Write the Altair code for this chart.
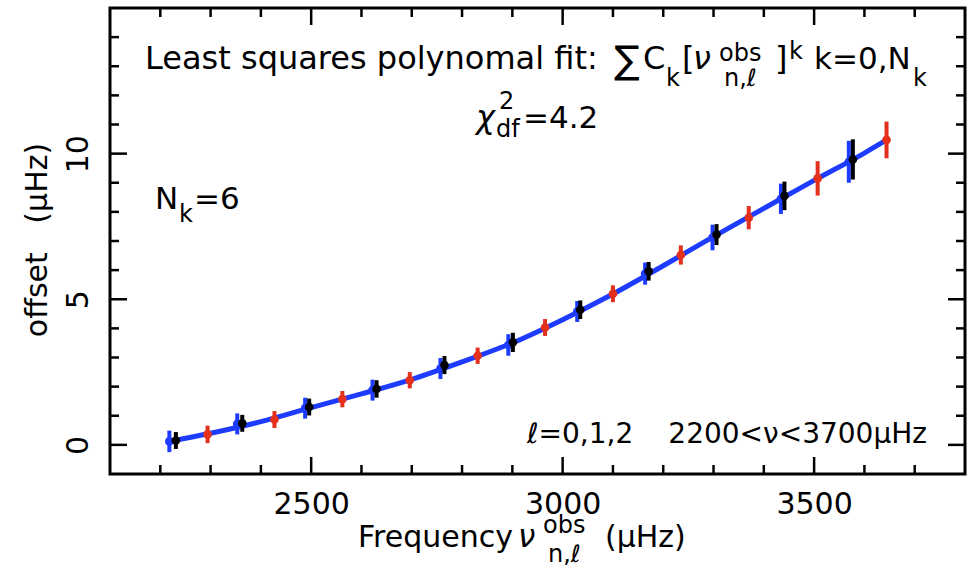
import altair as alt
import pandas as pd

# ---------------- data ----------------
# l = 0 modes (red)
nu_l0 = [2294, 2427, 2562, 2696, 2831, 2965, 3100, 3235, 3370, 3507, 3644]
off_l0 = [0.36, 0.87, 1.57, 2.22, 3.06, 4.03, 5.19, 6.52, 7.80, 9.15, 10.47]
err_l0 = [0.30, 0.29, 0.28, 0.28, 0.28, 0.29, 0.29, 0.33, 0.40, 0.59, 0.63]
# l = 1 modes (black)
nu_l1 = [2231, 2363, 2496, 2630, 2765, 2901, 3035, 3171, 3306, 3441, 3577]
off_l1 = [0.15, 0.74, 1.30, 1.92, 2.74, 3.52, 4.64, 5.96, 7.22, 8.55, 9.80]
err_l1 = [0.29, 0.29, 0.29, 0.30, 0.31, 0.33, 0.32, 0.32, 0.36, 0.49, 0.69]
# l = 2 modes (blue)
nu_l2 = [2218, 2353, 2488, 2622, 2757, 2892, 3029, 3164, 3298, 3434, 3569]
off_l2 = [0.12, 0.72, 1.26, 1.88, 2.62, 3.43, 4.58, 5.88, 7.12, 8.45, 9.72]
err_l2 = [0.37, 0.36, 0.36, 0.36, 0.36, 0.37, 0.36, 0.38, 0.44, 0.52, 0.72]
# polynomial fit curve
fit_nu = [2218, 2300, 2400, 2500, 2600, 2700, 2800, 2900, 3000, 3100,
          3200, 3300, 3400, 3500, 3600, 3644]
fit_off = [0.12, 0.40, 0.80, 1.28, 1.75, 2.25, 2.85, 3.50, 4.30, 5.18,
           6.15, 7.15, 8.12, 9.08, 10.02, 10.47]

# axis ticks / labels
x_major = [2500, 3000, 3500]
x_minor = [2200, 2300, 2400, 2600, 2700, 2800, 2900, 3100, 3200, 3300, 3400, 3600, 3700]
y_major = [0, 5, 10]
y_minor = [1, 2, 3, 4, 6, 7, 8, 9, 11, 12, 13, 14]
x_domain = [2100, 3800]
y_domain = [-1, 15]

# ---------------- style ----------------
W, H = 855, 466
FONT = "DejaVu Sans"
BLUE = "#1e3cff"
RED = "#e3301c"
BLACK = "#000000"

xscale = alt.Scale(domain=x_domain, nice=False, zero=False)
yscale = alt.Scale(domain=y_domain, nice=False, zero=False)
xaxis = alt.Axis(values=x_major, ticks=False, tickSize=0, domain=False, grid=False,
                 labelFont=FONT, labelFontSize=30, labelColor="black",
                 labelPadding=15, title=None, format="d")
yaxis = alt.Axis(values=y_major, ticks=False, tickSize=0, domain=False, grid=False,
                 labelFont=FONT, labelFontSize=30, labelColor="black",
                 labelAngle=270, labelAlign="center", labelBaseline="middle",
                 labelPadding=32, title=None, format="d")


def X(f):
    return alt.X(f, type="quantitative", scale=xscale, axis=xaxis)


def Y(f):
    return alt.Y(f, type="quantitative", scale=yscale, axis=yaxis)


def series_df(nu, off, err):
    df = pd.DataFrame({"nu": nu, "off": off, "err": err})
    df["lo"] = df["off"] - df["err"]
    df["hi"] = df["off"] + df["err"]
    return df


layers = []

# fit line
fit_df = pd.DataFrame({"nu": fit_nu, "off": fit_off})
layers.append(alt.Chart(fit_df).mark_line(color=BLUE, strokeWidth=5, interpolate="monotone")
              .encode(x=X("nu"), y=Y("off")))

for nu, off, err, col in [(nu_l2, off_l2, err_l2, BLUE),
                          (nu_l1, off_l1, err_l1, BLACK),
                          (nu_l0, off_l0, err_l0, RED)]:
    df = series_df(nu, off, err)
    layers.append(alt.Chart(df).mark_rule(color=col, strokeWidth=4)
                  .encode(x=X("nu"), y=Y("lo"), y2="hi"))
    layers.append(alt.Chart(df).mark_circle(color=col, size=75, opacity=1)
                  .encode(x=X("nu"), y=Y("off")))

# inward ticks on all four sides
TW = 2.5
for vals, ln in [(x_major, 17), (x_minor, 9)]:
    d = pd.DataFrame({"v": vals})
    layers.append(alt.Chart(d).mark_rule(color="black", strokeWidth=TW)
                  .encode(x=X("v"), y=alt.value(H), y2=alt.value(H - ln)))
    layers.append(alt.Chart(d).mark_rule(color="black", strokeWidth=TW)
                  .encode(x=X("v"), y=alt.value(0), y2=alt.value(ln)))
for vals, ln in [(y_major, 17), (y_minor, 9)]:
    d = pd.DataFrame({"v": vals})
    layers.append(alt.Chart(d).mark_rule(color="black", strokeWidth=TW)
                  .encode(y=Y("v"), x=alt.value(0), x2=alt.value(ln)))
    layers.append(alt.Chart(d).mark_rule(color="black", strokeWidth=TW)
                  .encode(y=Y("v"), x=alt.value(W), x2=alt.value(W - ln)))


def txt(s, x, y, size=31, align="left", italic=False, angle=None, baseline="alphabetic"):
    kw = dict(text=s, font=FONT, fontSize=size, align=align, baseline=baseline, color="black")
    if italic:
        kw["fontStyle"] = "italic"
    if angle is not None:
        kw["angle"] = angle
    return alt.Chart(alt.Data(values=[{}])).mark_text(**kw).encode(
        x=alt.value(x), y=alt.value(y))


SUB = 24
# title line 1
B1 = 61
layers += [
    txt("Least squares polynomal fit:", 35, B1, size=32),
    txt("\u2211", 504, B1 + 4, size=38),
    txt("C", 533, B1, size=32),
    txt("k", 556, B1 + 17, size=SUB),
    txt("[", 572, B1, size=32),
    txt("\u03bd", 583, B1, size=32, italic=True),
    txt("obs", 609, B1 - 8, size=SUB),
    txt("n,\u2113", 614, B1 + 17, size=SUB),
    txt("]", 665, B1, size=32),
    txt("k", 679, B1 - 10, size=SUB),
    txt("k=0,N", 704, B1, size=31),
    txt("k", 803, B1 + 17, size=SUB),
]
# title line 2
B2 = 120
layers += [
    txt("\u03c7", 366, B2, size=32, italic=True),
    txt("2", 389, B2 - 19, size=SUB),
    txt("df", 386, B2 + 9, size=SUB),
    txt("=4.2", 413, B2, size=31),
]
# N_k = 6
B3 = 201
layers += [
    txt("N", 45, B3),
    txt("k", 69, B3 + 13, size=SUB),
    txt("=6", 84, B3),
]
# degree / range annotation
B4 = 435
layers += [
    txt("\u2113=0,1,2", 417, B4, size=28),
    txt("2200<\u03bd<3700\u03bcHz", 817, B4, size=28, align="right"),
]
# x axis title
B5 = 539
layers += [
    txt("Frequency", 248, B5, size=30),
    txt("\u03bd", 408, B5, italic=True),
    txt("obs", 433, B5 - 14, size=SUB),
    txt("n,\u2113", 438, B5 + 15, size=SUB),
    txt("(\u03bcHz)", 495, B5, size=30),
]
# y axis title
layers.append(txt("offset\u00a0\u00a0\u00a0(\u03bcHz)", -72, 232, size=30, align="center",
                  angle=270, baseline="middle"))

chart = alt.layer(*layers).properties(
    width=W, height=H,
    padding={"left": 110, "top": 8, "right": 11, "bottom": 98},
    autosize=alt.AutoSizeParams(type="none"),
    background="white",
).configure_view(stroke="black", strokeWidth=3)

chart.save("out.html", embed_options={"renderer": "svg", "actions": False})
